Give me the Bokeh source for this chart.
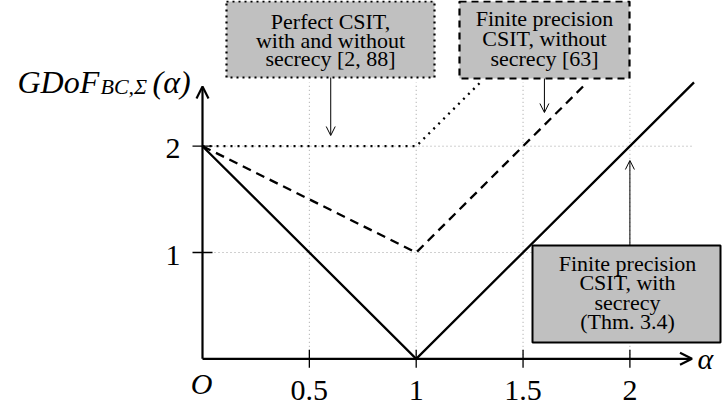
from bokeh.plotting import figure
from bokeh.models import Range1d, Arrow, OpenHead, BoxAnnotation, ColumnDataSource, Label
from bokeh.core.properties import value
from bokeh.embed import file_html
from bokeh.resources import INLINE

# ---------------- data ----------------
alpha_perfect = [0.0, 1.0, 1.3]
gdof_perfect = [2.0, 2.0, 2.6]
alpha_fp_nosec = [0.0, 1.0, 1.8]
gdof_fp_nosec = [2.0, 1.0, 2.6]
alpha_fp_sec = [0.0, 1.0, 2.3]
gdof_fp_sec = [2.0, 0.0, 2.6]
x_ticks = [0.5, 1.0, 1.5, 2.0]
x_tick_labels = ["0.5", "1", "1.5", "2"]
y_ticks = [1.0, 2.0]
y_tick_labels = ["1", "2"]
x_max = 2.3
y_max = 2.6

box_perfect_text = ["Perfect CSIT,", "with and without", "secrecy [2, 88]"]
box_nosec_text = ["Finite precision", "CSIT, without", "secrecy [63]"]
box_sec_text = ["Finite precision", "CSIT, with", "secrecy", "(Thm. 3.4)"]

# ---------------- layout helpers (page px -> data) ----------------
X0_PX, SX = 202.0, 213.7
Y0_PX, SY = 358.3, 106.3


def dx(px):
    return (px - X0_PX) / SX


def dy(py):
    return (Y0_PX - py) / SY


W, H = 722, 406
FONT = "Liberation Serif"

p = figure(width=W, height=H,
           x_range=Range1d(dx(0), dx(W)), y_range=Range1d(dy(H), dy(0)),
           output_backend="svg", toolbar_location=None,
           x_axis_type=None, y_axis_type=None, min_border=0)
p.outline_line_color = None
p.background_fill_color = "white"
p.border_fill_color = "white"

# grid
GRID = dict(line_color="#a0a0a0", line_width=1, line_dash="1 3")
p.segment(x0=x_ticks, y0=[0] * len(x_ticks), x1=x_ticks, y1=[y_max] * len(x_ticks), **GRID)
p.segment(x0=[0] * len(y_ticks), y0=y_ticks, x1=[x_max] * len(y_ticks), y1=y_ticks, **GRID)

# curves
p.line(alpha_perfect, gdof_perfect, line_color="black", line_width=2.3, line_dash="2 5", line_join="miter")
p.line(alpha_fp_nosec, gdof_fp_nosec, line_color="black", line_width=2.3, line_dash="9 6", line_join="miter")
p.line(alpha_fp_sec, gdof_fp_sec, line_color="black", line_width=2.3, line_join="miter")

# ticks
p.segment(x0=x_ticks, y0=[-9 / SY] * len(x_ticks), x1=x_ticks, y1=[9 / SY] * len(x_ticks),
          line_color="black", line_width=1.3)
p.segment(x0=[-10 / SX] * len(y_ticks), y0=y_ticks, x1=[10 / SX] * len(y_ticks), y1=y_ticks,
          line_color="black", line_width=1.3)

# axes
p.add_layout(Arrow(end=OpenHead(size=12, line_width=2.2, line_color="black"),
                   x_start=0, y_start=0, x_end=dx(691.5), y_end=0,
                   line_width=2.2, line_color="black"))
p.add_layout(Arrow(end=OpenHead(size=12, line_width=2.2, line_color="black"),
                   x_start=0, y_start=0, x_end=0, y_end=dy(86),
                   line_width=2.2, line_color="black"))

# tick labels
xs = ColumnDataSource(dict(x=x_ticks, y=[0] * len(x_ticks), t=x_tick_labels))
p.text(x="x", y="y", text="t", source=xs, y_offset=32, text_align="center",
       text_baseline="alphabetic", text_font=value(FONT), text_font_size="30px", text_color="black")
ys = ColumnDataSource(dict(x=[dx(180)] * len(y_ticks), y=y_ticks, t=y_tick_labels))
p.text(x="x", y="y", text="t", source=ys, y_offset=2.5, text_align="right",
       text_baseline="alphabetic", text_font=value(FONT), text_font_size="30px", text_color="black")


def label(px, py, t, size, align="left", style="italic"):
    p.add_layout(Label(x=dx(px), y=dy(py), text=t, text_align=align, text_baseline="alphabetic",
                       text_font=FONT, text_font_style=style, text_font_size=size,
                       text_color="black"))


# origin and axis labels
label(201, 383, "O", "30px", align="center")
label(697, 358, "α", "30px")
label(17, 81, "GDoF", "32px")
label(100, 86, "BC,Σ", "22px")
label(152, 81, "(α)", "32px")

# annotation boxes
FILL = "#c0c0c0"
p.add_layout(BoxAnnotation(left=dx(226), right=dx(434), bottom=dy(77), top=dy(1),
                           fill_color=FILL, fill_alpha=1, line_color="black", line_alpha=1,
                           line_width=2.2, line_dash="2 4"))
p.add_layout(BoxAnnotation(left=dx(459), right=dx(629), bottom=dy(78), top=dy(1),
                           fill_color=FILL, fill_alpha=1, line_color="black", line_alpha=1,
                           line_width=2.2, line_dash="7 5"))
p.add_layout(BoxAnnotation(left=dx(532), right=dx(720), bottom=dy(342), top=dy(245),
                           fill_color=FILL, fill_alpha=1, line_color="black", line_alpha=1,
                           line_width=2.0))


def box_lines(lines, cx, base0, step, size="22px"):
    for i, t in enumerate(lines):
        label(cx, base0 + i * step, t, size, align="center", style="normal")


box_lines(box_perfect_text, 330, 21, 18.5)
box_lines(box_nosec_text, 544, 18, 20.2)
box_lines(box_sec_text, 627, 263, 19.3)


# pointer arrows
def pointer(x, y0, y1):
    p.add_layout(Arrow(end=OpenHead(size=9, line_width=1, line_color="black"),
                       x_start=x, y_start=y0, x_end=x, y_end=y1,
                       line_width=1, line_color="black"))


pointer(0.6, dy(77), dy(135))
pointer(1.6, dy(78), dy(112))
pointer(2.0, dy(245), dy(160))

open("out.html", "w").write(file_html(p, INLINE))
